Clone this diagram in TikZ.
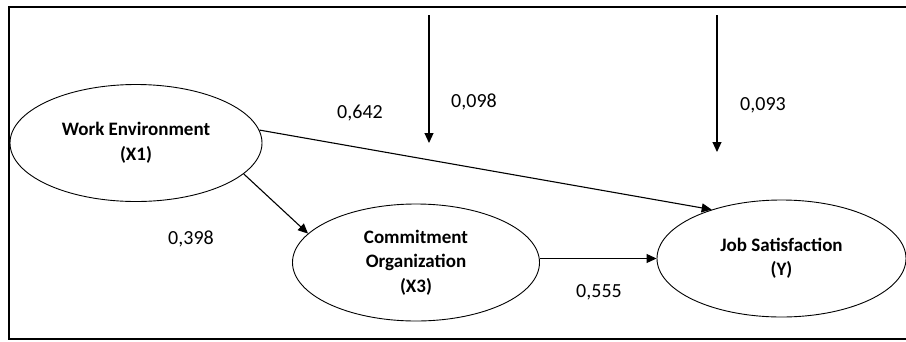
\documentclass[tikz,border=0pt]{standalone}
\usepackage{fontspec}
\setmainfont{Carlito}
\usetikzlibrary{shapes.geometric,arrows.meta}
\begin{document}
\begin{tikzpicture}[x=1pt,y=-1pt,
  latent/.style={ellipse,draw,line width=0.9pt,inner sep=0pt,align=center,
    font=\fontsize{19}{24.5}\selectfont\bfseries},
  arr/.style={line width=1.1pt,-{Triangle[length=10pt,width=9pt]}},
  coef/.style={font=\fontsize{20}{24}\selectfont}]
\useasboundingbox (0,0) rectangle (906,341);
\draw[line width=2.2pt] (906,7) -- (9,7) -- (9,339) -- (906,339);
\node[latent,minimum width=252pt,minimum height=117pt] (we) at (136,143)
  {Work Environment\\(X1)};
\node[latent,minimum width=247pt,minimum height=117pt] (co) at (416,262.5)
  {Commitment\\Organization\\(X3)};
\node[latent,minimum width=249pt,minimum height=117pt] (js) at (781.5,258.5)
  {Job Satisfaction\\(Y)};
\coordinate (t1) at (429,15);
\coordinate (h1) at (429,143);
\coordinate (t2) at (717,15);
\coordinate (h2) at (717,152);
\draw[arr] (t1) -- (h1);
\draw[arr] (t2) -- (h2);
\draw[arr] (we.6) -- (js.145);
\draw[arr] (we.-16) -- (co.165);
\draw[arr] (co.east |- js.west) -- (js.west);
\node[coef] (l642) at (360,113) {0,642};
\node[coef] (l098) at (474,102) {0,098};
\node[coef] (l093) at (763,105) {0,093};
\node[coef] (l398) at (191,239) {0,398};
\node[coef] (l555) at (599,292) {0,555};
\end{tikzpicture}
\end{document}
